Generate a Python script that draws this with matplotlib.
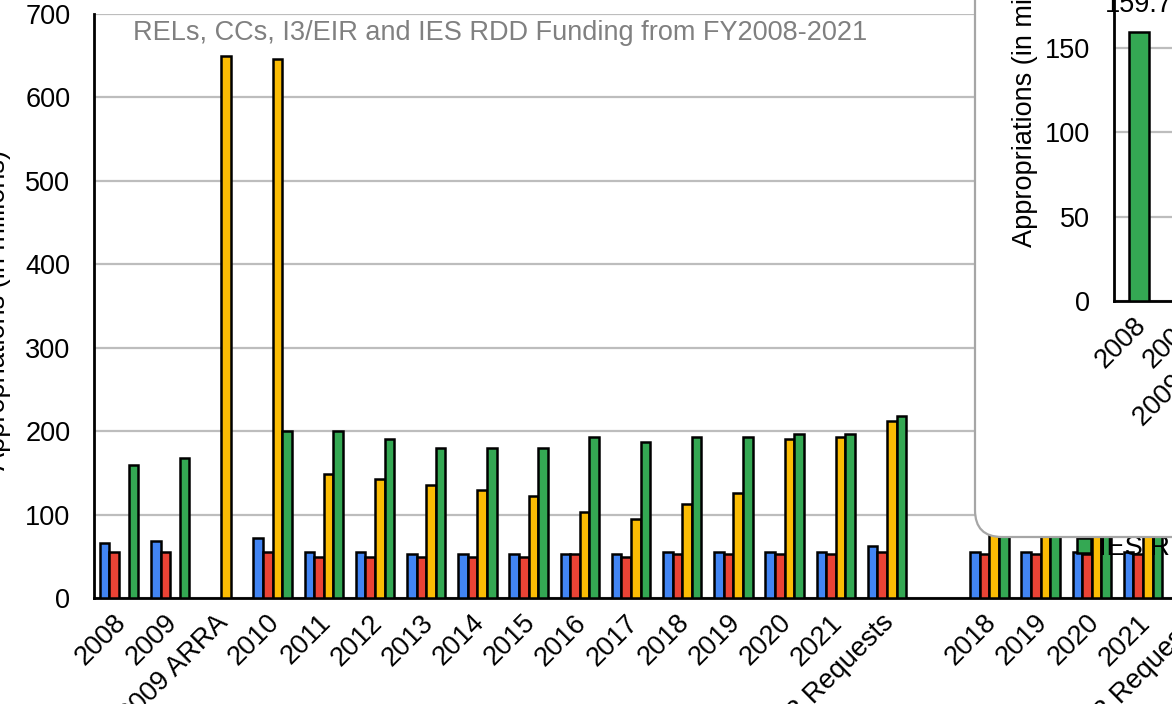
import numpy as np
import matplotlib
matplotlib.use("Agg")
import matplotlib.pyplot as plt
from matplotlib.patches import FancyBboxPatch, Patch
from matplotlib.transforms import ScaledTranslation

plt.rcParams['font.family'] = ['Liberation Sans', 'DejaVu Sans']

# ---------------- data ----------------
categories = ['2008', '2009', '2009 ARRA', '2010', '2011', '2012', '2013', '2014',
              '2015', '2016', '2017', '2018', '2019', '2020', '2021', '2022 Requests',
              '', '2018', '2019', '2020', '2021', '2022 Requests']
nan = np.nan
rels = [65.5, 68.3, nan, 72.0, 55.5, 55.5, 52.8, 52.8, 52.8, 52.8, 52.8, 55.5, 55.5,
        55.5, 55.5, 62.3, nan, 55.5, 55.5, 55.5, 55.5, 62.3]
ccs = [55.5, 55.5, nan, 55.5, 49.5, 49.5, 49.5, 49.5, 49.5, 52.8, 49.5, 52.8, 52.8,
       52.8, 52.8, 55.5, nan, 52.8, 52.8, 52.8, 52.8, 55.5]
i3_eir = [nan, nan, 650.0, 646.0, 148.7, 142.3, 135.5, 129.5, 122.7, 103.5, 94.3, 112.7,
          125.9, 190.3, 193.0, 212.2, nan, 112.7, 125.9, 190.3, 193.0, 212.2]
ies_rdd = [159.7, 167.5, nan, 200.0, 200.0, 190.3, 180.2, 180.0, 180.0, 193.0, 186.7,
           193.0, 193.0, 196.2, 196.2, 218.6, nan, 193.0, 193.0, 196.2, 196.2, 218.6]
series_names = ['RELs', 'CCs', 'I3/EIR', 'IES RDD']
colors = ['#4285F4', '#EA4335', '#FBBC04', '#34A853']

inset_categories = ['2008', '2009', '2009 ARRA', '2010', '2011', '2012']
inset_values = [159.7, 167.5, nan, 200.0, 200.0, 190.3]

title = 'RELs, CCs, I3/EIR and IES RDD Funding from FY2008-2021'

FS = 19.5

# ---------------- figure ----------------
W, H = 1172, 704
fig = plt.figure(figsize=(W / 100, H / 100), dpi=100)

def fx(px):
    return px / W

def fy(py):
    return 1 - py / H

# main axes: x from 94px (extends beyond right edge), y 0 at 598px, 700 at 14px
ax_left, ax_right = 94, 1249
ax = fig.add_axes([fx(ax_left), fy(598), (ax_right - ax_left) / W, (598 - 14) / H])
step = 51.2
c0 = 119
ax.set_xlim((ax_left - c0) / step, (ax_right - c0) / step)
ax.set_ylim(0, 700)

x = np.arange(len(categories))
bw = 9.6 / step
for k, (vals, col, name) in enumerate(zip([rels, ccs, i3_eir, ies_rdd], colors, series_names)):
    ax.bar(x + (k - 1.5) * bw, vals, width=bw, color=col, edgecolor='black',
           linewidth=1.8, label=name, zorder=3)

ax.set_yticks(np.arange(0, 701, 100))
ax.yaxis.grid(True, color='#BDBDBD', linewidth=1.6)
ax.set_axisbelow(True)
for s in ['top', 'right']:
    ax.spines[s].set_visible(False)
for s in ['left', 'bottom']:
    ax.spines[s].set_linewidth(2)
    ax.spines[s].set_color('black')
ax.tick_params(axis='y', length=0, pad=17, labelsize=FS)
ax.tick_params(axis='x', length=0, pad=15, labelsize=FS)
ax.set_xticks(x)
ax.set_xticklabels(categories, rotation=45, ha='right', va='center',
                   rotation_mode='anchor')
off = ScaledTranslation(3 / 100, 0, fig.dpi_scale_trans)
for lab in ax.get_xticklabels():
    lab.set_transform(lab.get_transform() + off)

# legend (mostly hidden behind the inset box)
handles = [Patch(facecolor=c, edgecolor='black', linewidth=1.8) for c in colors]
leg = ax.legend(handles, series_names, loc='lower left',
                bbox_to_anchor=(fx(1077), fy(561)), bbox_transform=fig.transFigure,
                frameon=False, fontsize=FS, handlelength=0.5, handleheight=0.5,
                handletextpad=0.3, borderpad=0, borderaxespad=0, labelspacing=0.4)

fig.text(fx(133), fy(33), title, color='#808080', fontsize=FS, ha='left', va='center')
fig.text(fx(-2), fy(310), 'Appropriations (in millions)', rotation=90, fontsize=FS,
         ha='center', va='center')

# ---------------- inset box ----------------
box = FancyBboxPatch((975 / 100, (H - 537) / 100), 4.0, 7.0,
                     boxstyle='round,pad=0,rounding_size=0.27',
                     transform=fig.dpi_scale_trans, facecolor='white',
                     edgecolor='#A6A6A6', linewidth=1.6, zorder=5)
fig.add_artist(box)

iax_left, iax_right = 1114, 1414
ibottom = 301
ppu = 253 / 150.0
itop = ibottom - 200 * ppu
iax = fig.add_axes([fx(iax_left), fy(ibottom), (iax_right - iax_left) / W,
                    (ibottom - itop) / H], zorder=6)
iax.patch.set_alpha(0)
istep = 48
ic0 = 1139
iax.set_xlim((iax_left - ic0) / istep, (iax_right - ic0) / istep)
iax.set_ylim(0, 200)
ix = np.arange(len(inset_categories))
ibars = iax.bar(ix, inset_values, width=20 / istep, color=colors[3], edgecolor='black',
                linewidth=1.8, zorder=3)
for xi, v in zip(ix, inset_values):
    if not np.isnan(v):
        iax.annotate(f'{v:.1f}', (xi, v), xytext=(0, 10), textcoords='offset points',
                     ha='center', va='bottom', fontsize=FS)
iax.set_yticks([0, 50, 100, 150, 200])
iax.yaxis.grid(True, color='#BDBDBD', linewidth=1.6)
iax.set_axisbelow(True)
for s in ['top', 'right']:
    iax.spines[s].set_visible(False)
for s in ['left', 'bottom']:
    iax.spines[s].set_linewidth(2)
    iax.spines[s].set_color('black')
iax.tick_params(axis='y', length=0, pad=17, labelsize=FS)
iax.tick_params(axis='x', length=0, pad=15, labelsize=FS)
iax.set_xticks(ix)
iax.set_xticklabels(inset_categories, rotation=45, ha='right', va='center',
                    rotation_mode='anchor')
for lab in iax.get_xticklabels():
    lab.set_transform(lab.get_transform() + off)
fig.text(fx(1025), fy(247), 'Appropriations (in millions)', rotation=90, fontsize=FS,
         ha='center', va='bottom', zorder=7)

fig.savefig('out.png', dpi=100)
